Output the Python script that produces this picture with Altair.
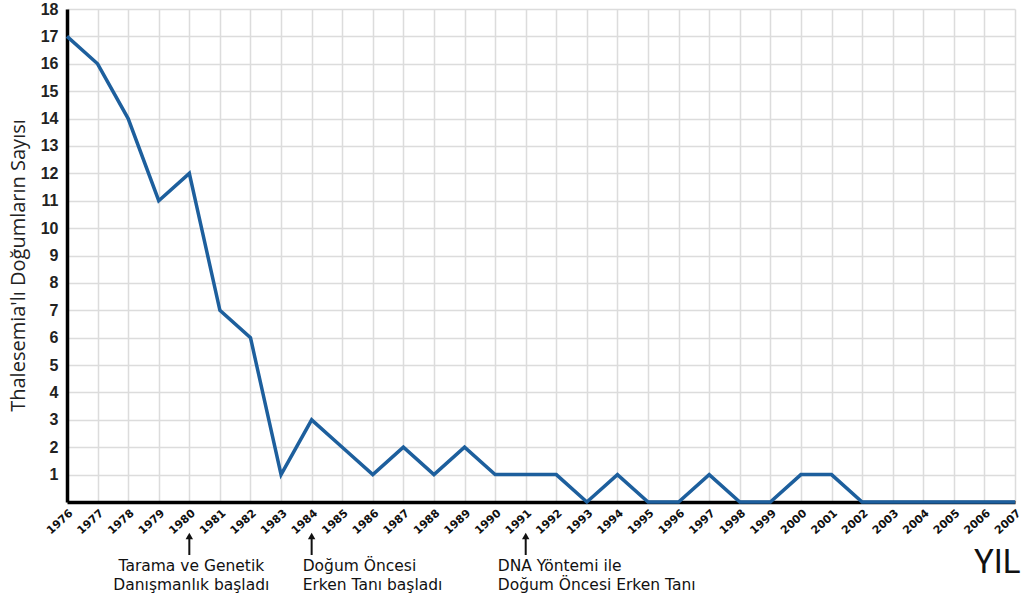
import altair as alt
import pandas as pd

years = [1976, 1977, 1978, 1979, 1980, 1981, 1982, 1983, 1984, 1985, 1986,
         1987, 1988, 1989, 1990, 1991, 1992, 1993, 1994, 1995, 1996, 1997,
         1998, 1999, 2000, 2001, 2002, 2003, 2004, 2005, 2006, 2007]
births = [17, 16, 14, 11, 12, 7, 6, 1, 3, 2, 1,
          2, 1, 2, 1, 1, 1, 0, 1, 0, 0, 1,
          0, 0, 1, 1, 0, 0, 0, 0, 0, 0]
y_ticks = [1, 2, 3, 4, 5, 6, 7, 8, 9, 10, 11, 12, 13, 14, 15, 16, 17, 18]

ann_years = [1980, 1984, 1991]
ann_line1 = ["Tarama ve Genetik", "Doğum Öncesi", "DNA Yöntemi ile"]
ann_line2 = ["Danışmanlık başladı", "Erken Tanı başladı", "Doğum Öncesi Erken Tanı"]

df = pd.DataFrame({"year": years, "n": births})
ann = pd.DataFrame({"year": ann_years, "l1": ann_line1, "l2": ann_line2,
                    "idx": [0, 1, 2]})

W, H = 948, 493
FONT = "Open Sans"
ANN_FONT = "DejaVu Sans"

xscale = alt.Scale(domain=[1976, 2007], nice=False, zero=False)
yscale = alt.Scale(domain=[0, 18], nice=False)

xaxis = alt.Axis(values=years, format="d", labelAngle=-42, labelFontSize=11,
                 labelFontWeight="bold", labelFont="DejaVu Sans", labelColor="#111",
                 ticks=False, labelPadding=5, grid=True, gridColor="#dcdcdc",
                 gridWidth=1.5, domainColor="#000", domainWidth=3.5,
                 title="YIL", titleFontSize=33, titleFont="Roboto",
                 titleFontWeight="normal", titleColor="#111", titleAlign="right",
                 titleAnchor="end", titleX=953, titleY=70, titleBaseline="alphabetic",
                 labelOverlap=False, labelBound=False, labelFlush=False)
yaxis = alt.Axis(values=y_ticks, format="d", labelFontSize=16, labelFontWeight="bold",
                 labelFont="Liberation Sans", labelColor="#222", ticks=False,
                 labelPadding=9, grid=True, gridColor="#dcdcdc", gridWidth=1.5,
                 domainColor="#000", domainWidth=3.5,
                 title="Thalesemia'lı Doğumların Sayısı", titleFontSize=20,
                 titleFont=FONT, titleFontWeight="normal", titleColor="#222",
                 titleX=-49, titleY=256, titleAlign="center", titleBaseline="middle",
                 labelOverlap=False)

X = alt.X("year:Q", scale=xscale, axis=xaxis)

line = alt.Chart(df).mark_line(color="#1d5f9d", strokeWidth=3.5, strokeJoin="miter").encode(
    x=X,
    y=alt.Y("n:Q", scale=yscale, axis=yaxis),
)

arrow_shaft = alt.Chart(ann).mark_rule(color="#111", strokeWidth=2).encode(
    x=X, y=alt.value(528), y2=alt.value(546),
)
arrow_head = alt.Chart(ann).mark_point(shape="triangle-up", filled=True, color="#111",
                                       size=55, opacity=1).encode(
    x=X, y=alt.value(527),
)

aligns = [("center", 2), ("left", -9), ("left", -28)]
texts = []
for i, (al, dx) in enumerate(aligns):
    for field, ypos in (("l1", 550), ("l2", 569)):
        texts.append(
            alt.Chart(ann).transform_filter(alt.datum.idx == i).mark_text(
                align=al, dx=dx, baseline="top", fontSize=15.5,
                font=ANN_FONT, color="#111").encode(
                x=X, y=alt.value(ypos), text=f"{field}:N",
            )
        )

chart = alt.layer(line, arrow_shaft, arrow_head, *texts).properties(
    width=W, height=H,
    autosize=alt.AutoSizeParams(type="none"),
    padding={"left": 67, "top": 9, "right": 10, "bottom": 95},
    background="white",
).configure_view(stroke=None)

chart.save("out.html", embed_options={"renderer": "svg", "actions": False})
